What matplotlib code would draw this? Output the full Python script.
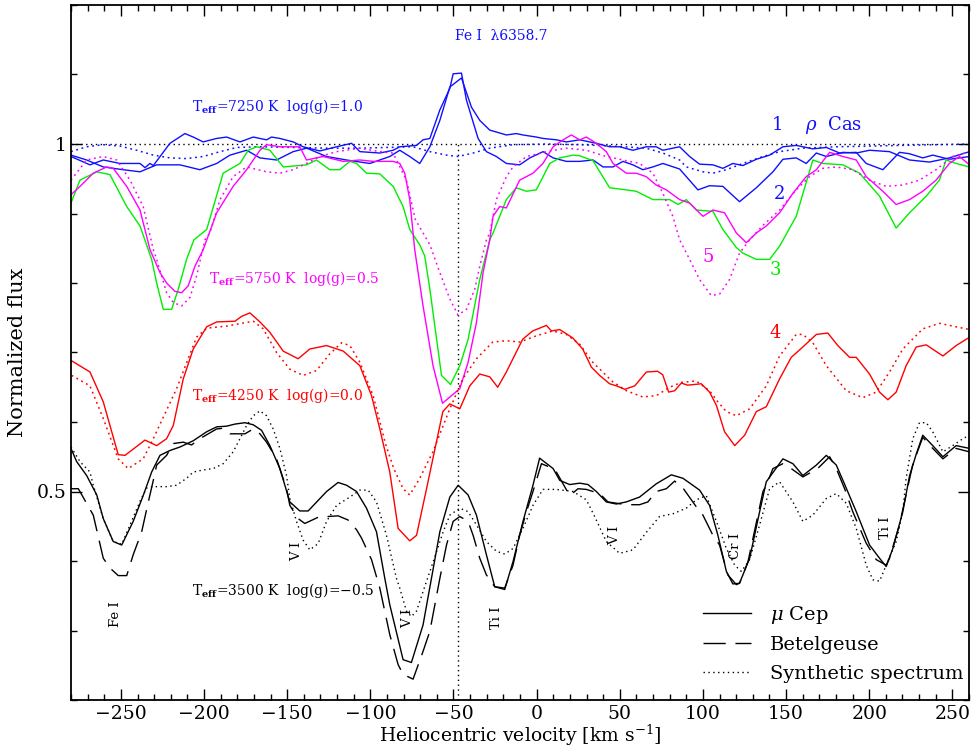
import matplotlib
matplotlib.use("Agg")
from matplotlib import pyplot as plt
from matplotlib.ticker import MultipleLocator, FixedLocator, FuncFormatter

plt.rcParams['font.family'] = ['DejaVu Serif']
plt.rcParams['mathtext.fontset'] = 'dejavuserif'

# --- rho Cas, Teff=7250 (blue) ---
v_rho1 = [-280, -270.6, -260.6, -248.6, -238.5, -228.5, -214.5, -202.5, -192.4, -184.4, -174.4, -166.4, -156.4,
          -146.4, -138.3, -126.3, -114.3, -100.3, -88.3, -82.3, -76.3, -70.3, -64.2, -58.2, -52.2, -45.2, -39.2,
          -34.2, -28.2, -18.2, -12.2, -8.2, -0.2, 3.9, 11.9, 17.9, 25.9, 35.9, 43.9, 49.9, 57.9, 65.9, 71.9, 75.9,
          86.0, 92.0, 98.0, 106.0, 112.0, 118.0, 124.0, 132.1, 140.1, 148.1, 156.1, 166.1, 174.2, 182.2, 192.2,
          198.2, 208.2, 218.2, 224.2, 232.2, 238.2, 248.2, 260.3]
f_rho1 = [0.984, 0.977, 0.967, 0.963, 0.960, 0.970, 0.970, 0.963, 0.972, 0.984, 0.991, 0.980, 0.977,
          0.989, 0.994, 0.982, 0.977, 0.972, 0.982, 0.991, 0.982, 0.972, 0.996, 1.034, 1.082, 1.095, 1.053,
          1.034, 1.020, 1.013, 1.015, 1.013, 1.010, 1.008, 1.006, 1.003, 1.006, 1.001, 0.996, 0.996, 0.991, 0.996,
          0.996, 0.991, 0.996, 0.982, 0.971, 0.970, 0.965, 0.972, 0.969, 0.978, 0.984, 0.996, 0.998, 0.993, 0.995,
          0.987, 0.988, 0.972, 0.963, 0.988, 0.986, 0.980, 0.984, 0.978, 0.982]

v_rho2 = [-280, -268.6, -260.6, -250.5, -238.5, -235.5, -232.5, -230.5, -220.5, -211.5, -206.5, -200.5, -192.4,
          -186.4, -178.4, -170.4, -162.4, -159.4, -154.4, -146.4, -140.4, -130.4, -120.3, -111.3, -106.3, -94.3,
          -86.3, -82.3, -72.2, -68.3, -64.2, -58.2, -52.2, -50.2, -45.2, -42.2, -35.2, -30.2, -24.2, -18.2, -10.2,
          -4.1, 3.9, 9.9, 17.9, 25.9, 33.9, 39.9, 45.9, 51.9, 57.9, 63.9, 69.9, 75.9, 86.0, 97.0, 104.0, 112.0,
          122.0, 132.1, 142.1, 148.1, 156.1, 162.1, 168.2, 174.2, 184.2, 192.2, 200.2, 212.2, 224.2, 236.2, 248.2,
          260.3]
f_rho2 = [0.982, 0.970, 0.977, 0.972, 0.972, 0.966, 0.972, 0.969, 1.001, 1.015, 1.010, 1.003, 1.008,
          1.010, 1.003, 1.010, 1.006, 1.010, 1.008, 1.003, 0.996, 0.990, 0.996, 1.001, 0.989, 0.987,
          0.991, 0.996, 0.998, 1.006, 1.008, 1.049, 1.080, 1.101, 1.102, 1.063, 1.008, 0.989, 0.982, 0.972, 0.970,
          0.980, 0.989, 0.980, 0.975, 0.975, 0.977, 0.967, 0.967, 0.975, 0.970, 0.963, 0.967, 0.972, 0.964, 0.934,
          0.940, 0.939, 0.917, 0.937, 0.960, 0.978, 0.980, 0.972, 0.987, 0.982, 0.988, 0.987, 0.991, 0.989, 0.977,
          0.974, 0.980, 0.989]

v_syn7250 = [-280, -270.6, -260.6, -250.5, -240.5, -230.5, -220.5, -210.5, -200.5, -190.4, -180.4, -166.4,
             -146.4, -126.3, -106.3, -74.3, -64.2, -54.2, -47.2, -38.2, -28.2, -14.2, 5.9, 25.9, 45.9, 65.9,
             75.9, 86.0, 90.0, 100.0, 106.0, 114.1, 124.0, 136.1, 146.1, 160.1, 180.2, 200.2, 220.2, 240.2, 260.3]
f_syn7250 = [0.989, 0.996, 0.999, 0.997, 0.991, 0.984, 0.980, 0.979, 0.982, 0.989, 0.995, 0.996,
             0.995, 0.994, 0.994, 0.996, 0.989, 0.984, 0.982, 0.987, 0.994, 0.999, 1.000, 0.999, 0.997, 0.994,
             0.987, 0.977, 0.967, 0.960, 0.958, 0.963, 0.972, 0.982, 0.989, 0.994, 0.996, 0.997, 0.998, 0.999, 1.000]

# --- Teff=5750 (magenta, observed + synthetic) ---
v_obs5750 = [-280, -274.6, -266.6, -258.5, -254.6, -246.5, -238.5, -232.5, -226.5, -222.5, -217.5, -213.5,
             -209.5, -205.5, -200.5, -192.4, -182.5, -174.4, -166.4, -162.4, -154.4, -142.4, -138.4, -128.4,
             -116.3, -106.3, -98.3, -86.3, -82.3, -79.3, -76.3, -73.3, -68.3, -62.3, -56.6, -46.2, -41.2, -36.2,
             -32.2, -28.2, -26.2, -22.2, -18.2, -10.2, -2.2, 3.8, 9.9, 15.9, 20.9, 25.9, 29.9, 35.9, 41.9, 45.9,
             53.9, 59.9, 65.9, 71.9, 78.0, 86.0, 92.0, 100.0, 106.0, 113.0, 120.1, 126.1, 132.1, 138.1, 146.1,
             154.1, 162.1, 168.2, 176.2, 184.2, 192.2, 198.2, 208.2, 216.2, 224.2, 232.2, 240.2, 248.2, 254.3,
             260.3]
f_obs5750 = [0.927, 0.939, 0.958, 0.967, 0.965, 0.939, 0.905, 0.848, 0.815, 0.800, 0.788, 0.786,
             0.796, 0.824, 0.848, 0.901, 0.939, 0.963, 0.991, 0.999, 0.996, 0.996, 0.977, 0.982,
             0.975, 0.977, 0.975, 0.975, 0.972, 0.958, 0.920, 0.848, 0.767, 0.681, 0.627, 0.648, 0.686, 0.743,
             0.815, 0.862, 0.896, 0.910, 0.908, 0.948, 0.958, 0.972, 0.996, 1.006, 1.013, 1.006, 1.010, 1.001,
             0.989, 0.972, 0.958, 0.958, 0.953, 0.941, 0.934, 0.920, 0.915, 0.896, 0.905, 0.901, 0.872, 0.858,
             0.872, 0.882, 0.901, 0.929, 0.953, 0.963, 0.988, 0.982, 0.977, 0.953, 0.932, 0.913, 0.920, 0.932,
             0.948, 0.972, 0.982, 0.970]

v_syn5750 = [-280, -270.6, -260.6, -252.5, -244.5, -236.6, -230.5, -228.5, -222.5, -218.5, -213.5, -208.5,
             -204.5, -199.5, -196.5, -190.4, -182.5, -174.4, -162.4, -154.4, -146.4, -138.4, -130.4, -120.3,
             -106.3, -94.3, -86.3, -78.3, -72.9, -64.2, -58.2, -52.2, -47.3, -42.2, -37.2, -34.2, -30.2, -28.2,
             -24.2, -18.2, -14.2, -6.1, 5.9, 17.9, 29.9, 41.9, 51.9, 61.9, 69.9, 75.9, 81.9, 86.0, 92.0, 98.0,
             105.0, 110.0, 116.0, 122.0, 128.1, 136.1, 146.1, 156.1, 164.1, 172.1, 180.2, 190.1, 200.2, 210.2,
             220.2, 230.2, 240.2, 250.2, 260.3]
f_syn5750 = [0.948, 0.977, 0.982, 0.977, 0.948, 0.910, 0.848, 0.834, 0.786, 0.772, 0.767, 0.779,
             0.810, 0.862, 0.872, 0.920, 0.953, 0.967, 0.960, 0.958, 0.963, 0.972, 0.982, 0.989,
             0.994, 0.989, 0.987, 0.948, 0.891, 0.855, 0.815, 0.777, 0.754, 0.762, 0.791, 0.824, 0.862, 0.872,
             0.920, 0.953, 0.967, 0.982, 0.989, 0.994, 0.991, 0.982, 0.977, 0.972, 0.958, 0.929, 0.896, 0.862,
             0.834, 0.805, 0.782, 0.784, 0.805, 0.843, 0.862, 0.883, 0.905, 0.934, 0.953, 0.965, 0.967, 0.963,
             0.948, 0.939, 0.941, 0.948, 0.963, 0.982, 0.989]

# --- green observed (3) ---
v_obs3 = [-280, -274.6, -264.5, -256.6, -246.5, -238.5, -231.5, -228.5, -224.5, -219.5, -215.5, -210.5, -206.1,
          -198.4, -188.5, -178.4, -173.4, -168.4, -160.4, -152.4, -138.4, -132.4, -124.4, -118.4, -112.3, -108.3,
          -102.3, -94.3, -86.3, -80.3, -76.3, -70.3, -67.3, -64.2, -57.2, -51.8, -46.2, -41.2, -34.2, -28.2,
          -26.2, -18.2, -12.2, -6.1, -0.2, 7.9, 13.9, 21.9, 25.9, 33.9, 43.9, 53.9, 59.9, 69.9, 80.0, 85.0,
          90.0, 96.0, 106.0, 112.0, 120.1, 124.0, 132.1, 140.1, 146.1, 156.1, 166.1, 172.1, 184.2, 194.2, 206.2,
          216.2, 224.2, 234.3, 242.2, 246.2, 252.3, 260.3]
f_obs3 = [0.915, 0.948, 0.960, 0.956, 0.910, 0.882, 0.834, 0.800, 0.762, 0.762, 0.791, 0.834, 0.862,
          0.877, 0.958, 0.972, 0.991, 0.996, 0.991, 0.967, 0.970, 0.977, 0.963, 0.963, 0.975, 0.972,
          0.958, 0.957, 0.939, 0.910, 0.877, 0.855, 0.839, 0.791, 0.667, 0.654, 0.681, 0.719, 0.805, 0.862,
          0.872, 0.920, 0.937, 0.932, 0.934, 0.972, 0.980, 0.984, 0.983, 0.976, 0.937, 0.934, 0.932, 0.920, 0.920,
          0.913, 0.920, 0.905, 0.903, 0.877, 0.851, 0.843, 0.834, 0.834, 0.853, 0.896, 0.977, 0.972, 0.970,
          0.958, 0.925, 0.879, 0.901, 0.925, 0.948, 0.977, 0.972, 0.967]

# --- Teff=4250 (red, observed + synthetic) ---
v_obs4250 = [-279.6, -268.6, -260.6, -251.6, -247.5, -235.5, -228.5, -222.5, -218.5, -212.5, -206.5, -198.4,
             -192.4, -181.4, -177.4, -172.4, -166.4, -160.4, -152.4, -143.4, -136.4, -126.3, -116.3, -106.3,
             -99.3, -94.3, -88.3, -83.3, -76.3, -72.2, -66.2, -56.4, -52.2, -46.2, -40.2, -34.2, -28.2, -23.4,
             -18.2, -8.4, -2.4, 5.9, 8.9, 13.9, 21.7, 27.7, 32.9, 37.9, 43.9, 48.0, 53.0, 59.0, 66.0, 72.8, 75.8,
             79.4, 83.0, 87.0, 90.8, 99.0, 104.0, 108.1, 113.0, 119.1, 125.1, 132.1, 138.1, 146.1, 153.1, 160.1,
             168.2, 175.1, 181.1, 188.2, 192.2, 200.2, 206.2, 211.2, 216.2, 222.2, 228.3, 234.3, 244.3, 252.3,
             260.3]
f_obs4250 = [0.688, 0.672, 0.629, 0.553, 0.552, 0.574, 0.566, 0.576, 0.595, 0.662, 0.705, 0.737,
             0.744, 0.745, 0.752, 0.757, 0.744, 0.729, 0.702, 0.691, 0.705, 0.710, 0.702, 0.681,
             0.638, 0.590, 0.528, 0.447, 0.429, 0.437, 0.504, 0.615, 0.626, 0.619, 0.652, 0.669, 0.665, 0.650,
             0.672, 0.719, 0.731, 0.739, 0.731, 0.733, 0.721, 0.705, 0.679, 0.667, 0.655, 0.652, 0.647, 0.652,
             0.672, 0.673, 0.668, 0.643, 0.645, 0.656, 0.653, 0.655, 0.643, 0.624, 0.586, 0.566, 0.581, 0.615,
             0.622, 0.662, 0.693, 0.708, 0.726, 0.728, 0.710, 0.693, 0.693, 0.669, 0.643, 0.632, 0.643, 0.681,
             0.708, 0.711, 0.695, 0.710, 0.722]

v_syn4250 = [-279.6, -268.6, -260.6, -251.6, -245.6, -236.6, -230.5, -216.5, -204.5, -198.4, -186.4, -170.4,
             -164.4, -156.4, -148.4, -140.4, -132.4, -124.4, -117.3, -112.3, -106.3, -98.3, -90.7, -85.9, -80.3,
             -76.3, -70.3, -62.4, -52.2, -44.4, -36.2, -26.4, -18.2, -10.2, -0.2, 9.7, 17.9, 25.9, 33.7, 45.7,
             54.0, 63.8, 72.0, 80.0, 87.0, 96.0, 104.0, 109.0, 114.1, 120.1, 128.1, 138.1, 146.1, 156.1, 160.1,
             166.1, 174.2, 186.2, 196.1, 204.2, 212.2, 220.2, 232.2, 242.2, 252.3, 260.3]
f_syn4250 = [0.667, 0.652, 0.605, 0.547, 0.533, 0.547, 0.576, 0.648, 0.722, 0.735, 0.738, 0.745,
             0.734, 0.700, 0.676, 0.667, 0.674, 0.698, 0.714, 0.710, 0.686, 0.638, 0.567, 0.533, 0.504,
             0.495, 0.519, 0.557, 0.619, 0.662, 0.691, 0.715, 0.717, 0.715, 0.724, 0.731, 0.726, 0.712, 0.686,
             0.658, 0.645, 0.636, 0.638, 0.650, 0.657, 0.659, 0.645, 0.629, 0.615, 0.609, 0.619, 0.652, 0.695,
             0.726, 0.726, 0.714, 0.681, 0.645, 0.635, 0.643, 0.672, 0.705, 0.734, 0.742, 0.737, 0.733]

# --- Teff=3500 (black): mu Cep, Betelgeuse, synthetic ---
v_mucep = [-280, -276.6, -270.6, -264.5, -260.6, -254.6, -249.5, -242.6, -236.6, -231.5, -226.5, -220.5, -214.5,
           -206.5, -198.4, -192.4, -186.4, -181.4, -175.4, -170.4, -165.4, -160.4, -154.4, -148.4, -142.4, -137.4,
           -126.3, -119.4, -114.3, -108.3, -102.3, -96.3, -91.3, -88.3, -80.3, -75.3, -68.3, -58.2, -52.2, -47.2,
           -41.2, -36.2, -30.2, -25.2, -19.2, -14.2, -8.2, -2.2, 1.8, 9.9, 13.9, 19.9, 25.9, 30.9, 35.9, 41.9,
           47.9, 53.9, 61.9, 71.9, 81.0, 88.0, 98.0, 104.0, 109.0, 114.1, 118.0, 122.0, 128.1, 134.1, 138.1,
           148.1, 154.1, 160.1, 168.2, 174.2, 180.2, 184.2, 192.2, 200.2, 206.2, 210.2, 214.2, 220.2, 224.2,
           228.3, 232.2, 238.2, 244.3, 252.3, 260.3]
f_mucep = [0.562, 0.543, 0.523, 0.495, 0.461, 0.428, 0.423, 0.457, 0.494, 0.528, 0.552, 0.559, 0.564,
           0.573, 0.586, 0.593, 0.594, 0.597, 0.599, 0.596, 0.588, 0.566, 0.533, 0.485, 0.472, 0.472,
           0.500, 0.513, 0.509, 0.500, 0.476, 0.442, 0.375, 0.337, 0.258, 0.254, 0.308, 0.442, 0.492, 0.509,
           0.495, 0.466, 0.409, 0.363, 0.359, 0.399, 0.457, 0.509, 0.548, 0.533, 0.516, 0.510, 0.512, 0.510,
           0.500, 0.485, 0.482, 0.485, 0.492, 0.511, 0.524, 0.519, 0.502, 0.480, 0.437, 0.385, 0.367, 0.368,
           0.404, 0.471, 0.514, 0.547, 0.540, 0.523, 0.538, 0.552, 0.538, 0.516, 0.471, 0.423, 0.404, 0.392,
           0.418, 0.471, 0.522, 0.554, 0.581, 0.566, 0.550, 0.566, 0.562]

v_betel = [-280, -275.6, -266.6, -260.6, -256.6, -251.6, -246.5, -242.6, -237.5, -233.7, -230.7, -228.5, -222.5,
           -218.5, -212.5, -207.5, -202.5, -192.4, -188.5, -184.4, -175.4, -170.4, -166.4, -162.4, -156.4, -150.4,
           -148.4, -143.4, -139.4, -130.4, -125.4, -119.4, -113.4, -108.3, -105.3, -99.3, -94.3, -88.3, -83.3,
           -80.3, -74.3, -68.3, -64.2, -58.2, -54.2, -50.2, -46.2, -41.2, -38.2, -34.2, -30.2, -25.2, -19.2,
           -14.2, -10.2, -6.1, -2.2, 2.9, 7.9, 11.9, 19.9, 24.9, 29.9, 37.9, 42.9, 53.9, 61.9, 66.9, 71.9, 78.0,
           83.0, 88.0, 96.0, 100.0, 106.0, 110.0, 115.0, 120.1, 122.0, 127.1, 136.1, 138.1, 142.1, 148.1, 153.1,
           160.1, 169.0, 176.2, 180.2, 185.2, 190.1, 198.1, 204.2, 210.2, 212.2, 218.2, 222.2, 226.2, 232.2,
           238.2, 244.3, 252.3, 260.3]
f_betel = [0.504, 0.504, 0.466, 0.404, 0.390, 0.379, 0.379, 0.409, 0.442, 0.483, 0.514, 0.538, 0.552,
           0.569, 0.571, 0.567, 0.576, 0.590, 0.591, 0.583, 0.583, 0.590, 0.583, 0.571, 0.547, 0.504,
           0.480, 0.461, 0.454, 0.464, 0.464, 0.465, 0.459, 0.445, 0.433, 0.402, 0.361, 0.294, 0.251,
           0.237, 0.230, 0.270, 0.299, 0.375, 0.423, 0.457, 0.464, 0.457, 0.437, 0.404, 0.380, 0.363, 0.361,
           0.394, 0.437, 0.471, 0.500, 0.540, 0.535, 0.528, 0.494, 0.504, 0.503, 0.497, 0.485, 0.481, 0.481,
           0.485, 0.500, 0.504, 0.515, 0.505, 0.478, 0.466, 0.437, 0.423, 0.380, 0.366, 0.368, 0.399, 0.500,
           0.509, 0.533, 0.540, 0.533, 0.521, 0.533, 0.550, 0.533, 0.504, 0.471, 0.426, 0.402, 0.394, 0.404,
           0.452, 0.496, 0.539, 0.578, 0.562, 0.547, 0.562, 0.557]

v_syn3500 = [-280, -274.6, -268.6, -266.6, -260.6, -254.6, -249.5, -244.5, -238.5, -234.5, -230.5, -222.5,
             -216.5, -210.5, -206.5, -200.5, -194.5, -188.5, -182.5, -178.4, -174.4, -170.4, -166.4, -162.4,
             -158.4, -154.4, -150.4, -148.4, -144.4, -140.4, -136.4, -131.4, -126.3, -120.3, -112.3, -106.3,
             -101.3, -96.3, -90.3, -84.3, -82.3, -78.3, -75.3, -72.2, -68.3, -62.2, -56.2, -52.2, -46.2, -41.2,
             -36.2, -30.2, -24.2, -19.2, -14.2, -8.2, -2.2, 3.8, 11.9, 21.9, 29.9, 34.9, 41.9, 49.9, 57.9, 65.9,
             73.9, 82.0, 90.0, 96.0, 102.0, 108.1, 114.1, 119.1, 123.1, 128.1, 134.1, 140.1, 146.1, 154.1, 160.1,
             166.1, 174.2, 180.2, 186.2, 192.2, 198.2, 202.2, 206.2, 210.2, 216.2, 220.2, 222.2, 226.2, 230.2,
             234.3, 238.2, 244.3, 250.2, 256.3, 260.3]
f_syn3500 = [0.564, 0.543, 0.528, 0.509, 0.461, 0.428, 0.424, 0.452, 0.486, 0.505, 0.507, 0.507,
             0.509, 0.519, 0.528, 0.531, 0.533, 0.540, 0.557, 0.576, 0.595, 0.609, 0.616, 0.609,
             0.590, 0.562, 0.523, 0.490, 0.457, 0.430, 0.416, 0.425, 0.457, 0.480, 0.492, 0.502,
             0.502, 0.485, 0.437, 0.375, 0.361, 0.328, 0.320, 0.328, 0.356, 0.399, 0.442, 0.466, 0.476, 0.471,
             0.452, 0.428, 0.414, 0.410, 0.418, 0.447, 0.480, 0.503, 0.503, 0.500, 0.488, 0.464, 0.428, 0.411,
             0.416, 0.441, 0.464, 0.468, 0.476, 0.488, 0.494, 0.457, 0.418, 0.394, 0.385, 0.402, 0.452, 0.504,
             0.514, 0.485, 0.457, 0.466, 0.490, 0.497, 0.483, 0.447, 0.394, 0.373, 0.371, 0.394, 0.428, 0.471,
             0.519, 0.576, 0.599, 0.599, 0.586, 0.557, 0.566, 0.576, 0.581]

line_velocity = -47.4   # Fe I 6358.7 rest position

# line identifications (label, velocity, flux)
line_ids = [("Fe I", -253, 0.323), ("V I", -144.2, 0.414), ("V I", -77.5, 0.317), ("Ti I", -24, 0.319),
            ("V I", 47, 0.437), ("Cr I", 119.5, 0.421), ("Ti I", 209.8, 0.448)]

BLUE, MAG, GREEN, RED = '#1010ff', '#ff00ff', '#00ee00', '#ff0000'
dots = (0, (1.2, 2.4))

fig = plt.figure(figsize=(9.71, 7.49), dpi=100)
ax = fig.add_axes([71 / 971, 49 / 749, 898 / 971, 695 / 749])

ax.axhline(1.0, color='black', lw=1, ls=(0, (1, 2.5)))
ax.plot([line_velocity, line_velocity], [0.2, 1.0], color='black', lw=1, ls=(0, (1, 2.5)))

ax.plot(v_syn7250, f_syn7250, color=BLUE, lw=1.1, ls=dots)
ax.plot(v_rho2, f_rho2, color=BLUE, lw=1)
ax.plot(v_rho1, f_rho1, color=BLUE, lw=1)
ax.plot(v_obs3, f_obs3, color=GREEN, lw=1)
ax.plot(v_syn5750, f_syn5750, color=MAG, lw=1.1, ls=dots)
ax.plot(v_obs5750, f_obs5750, color=MAG, lw=1)
ax.plot(v_syn4250, f_syn4250, color=RED, lw=1.1, ls=dots)
ax.plot(v_obs4250, f_obs4250, color=RED, lw=1)
ax.plot(v_mucep, f_mucep, color='black', lw=1, label=r'$\mu$ Cep')
ax.plot(v_betel, f_betel, color='black', lw=1, ls=(0, (16, 7)), label='Betelgeuse')
ax.plot(v_syn3500, f_syn3500, color='black', lw=1, ls=(0, (1, 2.5)), label='Synthetic spectrum')

ax.set_xlim(-280, 260)
ax.set_ylim(0.2, 1.2)
ax.xaxis.set_major_locator(MultipleLocator(50))
ax.xaxis.set_minor_locator(MultipleLocator(10))
ax.yaxis.set_major_locator(FixedLocator([0.5, 1.0]))
ax.yaxis.set_minor_locator(MultipleLocator(0.1))
ax.yaxis.set_major_formatter(FuncFormatter(lambda v, p: '%g' % v))
ax.tick_params(which='both', direction='in', top=True, right=True, labelsize=13.5)
ax.tick_params(which='major', length=8, width=1)
ax.tick_params(which='minor', length=4, width=1)
for s in ax.spines.values():
    s.set_linewidth(1.3)

ax.set_xlabel(r'Heliocentric velocity [km s$^{-1}$]', fontsize=13.5, labelpad=0)
ax.set_ylabel('Normalized flux', fontsize=15, labelpad=7)

ax.text(-21, 1.156, 'Fe I  λ6358.7', color=BLUE, fontsize=10, ha='center', va='center')
ax.text(-156, 1.054, r'T$_{\mathbf{eff}}$=7250 K  log(g)=1.0', color=BLUE, fontsize=10, ha='center', va='center')
ax.text(-146, 0.807, r'T$_{\mathbf{eff}}$=5750 K  log(g)=0.5', color=MAG, fontsize=10, ha='center', va='center')
ax.text(-156, 0.6375, r'T$_{\mathbf{eff}}$=4250 K  log(g)=0.0', color=RED, fontsize=10, ha='center', va='center')
ax.text(-152.6, 0.357, r'T$_{\mathbf{eff}}$=3500 K  log(g)=$-$0.5', color='black', fontsize=10,
        ha='center', va='center')
ax.text(141, 1.027, r'1    $\rho$  Cas', color=BLUE, fontsize=13, ha='left', va='center')
ax.text(146, 0.928, '2', color=BLUE, fontsize=13, ha='center', va='center')
ax.text(103.3, 0.838, '5', color=MAG, fontsize=13, ha='center', va='center')
ax.text(143.3, 0.818, '3', color=GREEN, fontsize=13, ha='center', va='center')
ax.text(143.3, 0.728, '4', color=RED, fontsize=13, ha='center', va='center')

for name, v, f in line_ids:
    ax.text(v, f, name, rotation=90, fontsize=9.5, ha='center', va='center')

ax.legend(loc='lower right', frameon=False, fontsize=14, handlelength=2.5, handletextpad=0.95,
          labelspacing=0.55, borderaxespad=0.3, bbox_to_anchor=(1.009, 0.005))

plt.savefig('out.png', dpi=100)
